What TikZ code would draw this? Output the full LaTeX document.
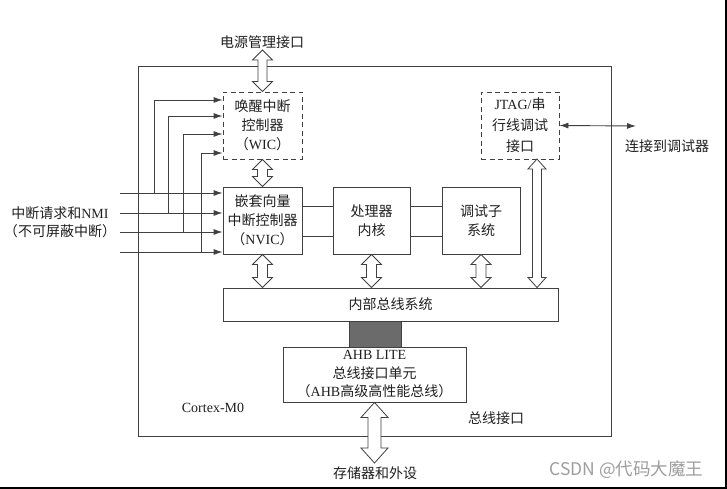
\documentclass[tikz,border=0pt]{standalone}
\usepackage{fontspec}
\setmainfont{Liberation Serif}
\newfontfamily\cjk{Noto Sans CJK SC}
\usetikzlibrary{arrows.meta,calc}
\definecolor{linec}{HTML}{404040}
\definecolor{textc}{HTML}{202020}
\newcommand\lat[1]{{\rmfamily #1}}
% #1 shaft half width, #2 head half width, #3 head length, #4 top point, #5 bottom point
\newcommand\fatarrow[5]{%
  \draw[fat] let \p1=#4, \p2=#5 in
    (\x1,\y1) -- (\x1+#2,\y1-#3) -- (\x1+#1,\y1-#3) -- (\x1+#1,\y2+#3) --
    (\x1+#2,\y2+#3) -- (\x1,\y2) -- (\x1-#2,\y2+#3) -- (\x1-#1,\y2+#3) --
    (\x1-#1,\y1-#3) -- (\x1-#2,\y1-#3) -- cycle;}
\begin{document}
\begin{tikzpicture}[x=1pt,y=-1pt,
  box/.style={draw=linec, line width=0.9pt, fill=white, align=center,
    font=\cjk\fontsize{14}{19}\selectfont, text=textc, inner sep=0pt},
  dbox/.style={box, dash pattern=on 5pt off 3.5pt},
  line/.style={draw=linec, line width=0.9pt},
  arr/.style={line, -{Latex[length=9pt,width=6pt]}},
  darr/.style={line, {Latex[length=9pt,width=6pt]}-{Latex[length=9pt,width=6pt]}},
  fat/.style={draw=linec, line width=0.8pt, fill=white},
  lbl/.style={font=\cjk\fontsize{14}{18}\selectfont, align=center, text=textc, inner sep=0pt}]
\useasboundingbox[fill=white] (0,0) rectangle (727,489);
% frame edges of the screenshot
\fill[black] (0,487) rectangle (727,489);
\fill[black] (725,0) rectangle (727,489);

% outer box
\draw[line] (138,66) rectangle (611,436);

% coordinates
\coordinate (in1) at (120,193);
\coordinate (in2) at (120,213);
\coordinate (in3) at (120,232);
\coordinate (in4) at (120,252);
\coordinate (b1) at (154,100);
\coordinate (b2) at (168,116);
\coordinate (b3) at (183,134);
\coordinate (b4) at (201,153);
\coordinate (pwr) at (262.5,50);
\coordinate (dbg) at (636,126);
\coordinate (ja) at (537,159);
\coordinate (mem) at (374.5,463);

% nodes
\node[dbox, minimum width=79pt, minimum height=67pt] (wic) at (262.5,125.5)
  {唤醒中断\\控制器\\（\lat{WIC}）};
\node[box, minimum width=79pt, minimum height=67pt] (nvic) at (262.5,220.5)
  {嵌套向量\\中断控制器\\（\lat{NVIC}）};
\node[box, minimum width=77pt, minimum height=67pt] (core) at (371.5,220.5)
  {处理器\\内核};
\node[box, minimum width=78pt, minimum height=67pt] (debug) at (481,220.5)
  {调试子\\系统};
\node[dbox, minimum width=78pt, minimum height=67pt, font=\cjk\fontsize{14}{21}\selectfont] (jtag) at (520,125.5)
  {\lat{JTAG/}串\\行线调试\\接口};
\node[box, minimum width=335pt, minimum height=33pt] (bus) at (390.5,304.5)
  {内部总线系统};
\node[box, fill=black!58, minimum width=52pt, minimum height=26pt] (dark) at (375,334) {};
\node[box, minimum width=183pt, minimum height=55pt, font=\cjk\fontsize{14}{18.5}\selectfont] (ahb) at (374.5,374.5)
  {\lat{AHB LITE}\\总线接口单元\\（\lat{AHB}高级高性能总线）};

% connections between NVIC, core, debug
\draw[line] ([yshift=14.5pt]nvic.east) -- ([yshift=14.5pt]core.west);
\draw[line] ([yshift=-15.5pt]nvic.east) -- ([yshift=-15.5pt]core.west);
\draw[line] ([yshift=14.5pt]core.east) -- ([yshift=14.5pt]debug.west);
\draw[line] ([yshift=-15.5pt]core.east) -- ([yshift=-15.5pt]debug.west);

% interrupt inputs
\draw[arr] (in1) -- (nvic.west |- in1);
\draw[arr] (in2) -- (nvic.west |- in2);
\draw[arr] (in3) -- (nvic.west |- in3);
\draw[arr] (in4) -- (nvic.west |- in4);
\draw[arr] (b1 |- in1) |- (wic.west |- b1);
\draw[arr] (b2 |- in2) |- (wic.west |- b2);
\draw[arr] (b3 |- in3) |- (wic.west |- b3);
\draw[arr] (b4 |- in4) |- (wic.west |- b4);

% debugger connection
\draw[darr] (jtag.east) -- (dbg);

% fat double arrows
\fatarrow{4.5pt}{10pt}{10pt}{(pwr)}{(wic.north)}
\fatarrow{5pt}{10pt}{10pt}{(wic.south)}{(nvic.north)}
\fatarrow{5pt}{10pt}{10pt}{(nvic.south)}{(bus.north -| nvic.south)}
\fatarrow{5pt}{10pt}{10pt}{(core.south)}{(bus.north -| core.south)}
\fatarrow{5pt}{10pt}{10pt}{(debug.south)}{(bus.north -| debug.south)}
\fatarrow{4.5pt}{9pt}{10pt}{(ja)}{(bus.north -| ja)}
\fatarrow{6.5pt}{13.5pt}{15pt}{(ahb.south)}{(mem)}

% labels
\node[lbl] (lpwr) at (262,42) {电源管理接口};
\node[lbl] (lint) at (60,222) {中断请求和\lat{NMI}\\（不可屏蔽中断）};
\node[lbl] (ldbg) at (667,146) {连接到调试器};
\node[lbl] (lmem) at (375,473) {存储器和外设};
\node[lbl] (lcm0) at (213,408) {\lat{Cortex-M0}};
\node[lbl] (lbus) at (496,418) {总线接口};
\node[font=\cjk\fontsize{17.5}{20}\selectfont, text=black!38, inner sep=0pt] (wm) at (626.5,470) {CSDN @代码大魔王};
\end{tikzpicture}
\end{document}
